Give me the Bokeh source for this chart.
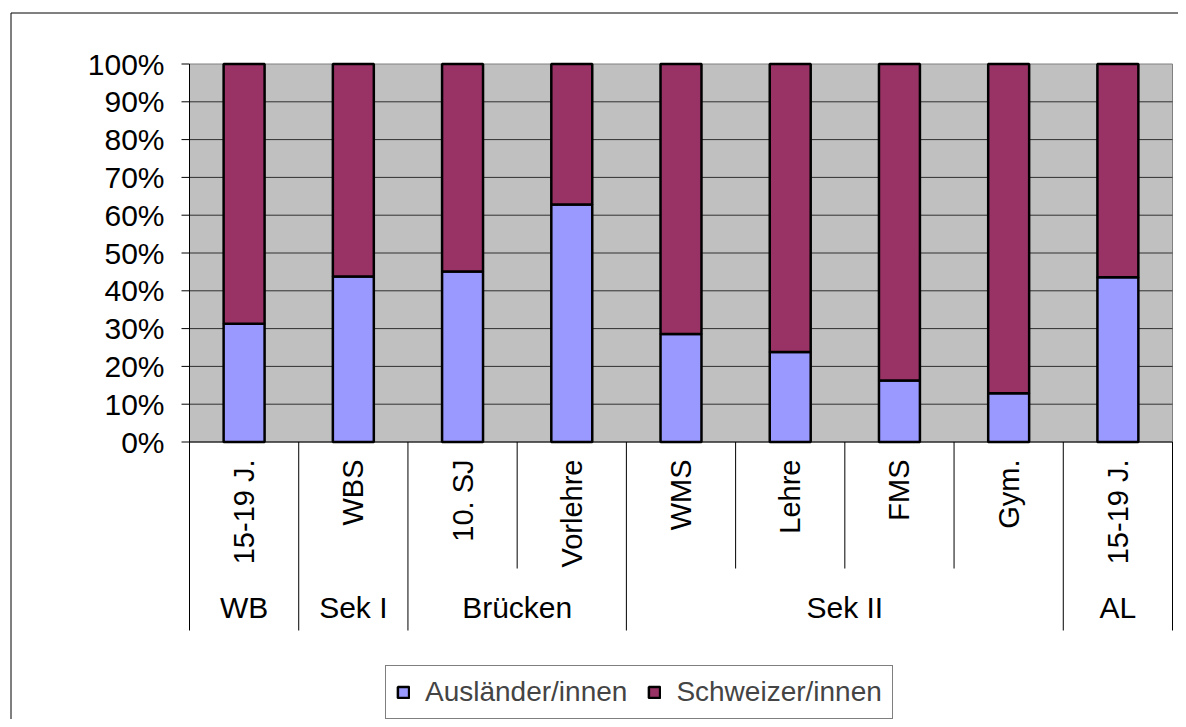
import math
from bokeh.plotting import figure
from bokeh.models import ColumnDataSource, Range1d, Legend, LegendItem
from bokeh.core.properties import value
from bokeh.embed import file_html
from bokeh.resources import INLINE

# ---------------- data ----------------
groups = ["WB", "Sek I", "Brücken", "Brücken", "Sek II", "Sek II", "Sek II", "Sek II", "AL"]
categories = ["15-19 J.", "WBS", "10. SJ", "Vorlehre", "WMS", "Lehre", "FMS", "Gym.", "15-19 J."]
auslaender = [31.3, 43.8, 45.1, 62.8, 28.6, 23.8, 16.3, 12.9, 43.6]
schweizer = [68.7, 56.2, 54.9, 37.2, 71.4, 76.2, 83.7, 87.1, 56.4]
series_names = ["Ausländer/innen", "Schweizer/innen"]
series_colors = ["#9999FF", "#993366"]
y_ticks = [0, 10, 20, 30, 40, 50, 60, 70, 80, 90, 100]
y_tick_labels = ["0%", "10%", "20%", "30%", "40%", "50%", "60%", "70%", "80%", "90%", "100%"]

# ---------------- layout (picture pixels) ----------------
FONT = "Liberation Sans"
W, H = 1178, 719
frame_left, frame_top = 9, 11
frame_right, frame_bottom = W, H
plot_left, plot_right = 189.0, 1172.0
plot_top, plot_bottom = 63.5, 441.5

n = len(categories)
ux = (plot_right - plot_left) / n
uy = (plot_bottom - plot_top) / 100.0


def dx(px):
    return -0.5 + (px - plot_left) / ux


def dy(py):
    return (plot_bottom - py) / uy


p = figure(width=W, height=H,
           x_range=Range1d(dx(frame_left), dx(frame_right)),
           y_range=Range1d(dy(frame_bottom), dy(frame_top)),
           output_backend="svg", toolbar_location=None,
           x_axis_location=None, y_axis_location=None,
           min_border_left=frame_left, min_border_top=frame_top,
           min_border_right=0, min_border_bottom=0)
p.grid.grid_line_color = None
p.outline_line_color = None
p.background_fill_color = "white"
p.border_fill_color = "white"

# outer chart border (top and left visible)
p.segment(x0=[dx(10.5), dx(10.5)], y0=[dy(12.5), dy(12.5)],
          x1=[dx(frame_right + 5), dx(10.5)], y1=[dy(12.5), dy(frame_bottom + 5)],
          line_color="black", line_width=1)

# plot area
x0 = -0.5
x1 = n - 0.5
p.quad(left=[x0], right=[x1], bottom=[0], top=[100],
       fill_color="#C0C0C0", line_color="#808080", line_width=1)

# gridlines
grid_vals = [t for t in y_ticks if 0 < t < 100]
p.segment(x0=[x0] * len(grid_vals), x1=[x1] * len(grid_vals), y0=grid_vals, y1=grid_vals,
          line_color="#303030", line_width=1)

# bars
src = ColumnDataSource(dict(x=list(range(n)), a=auslaender, s=schweizer))
rs = p.vbar_stack(["a", "s"], x="x", width=0.375, source=src,
                  fill_color=series_colors, line_color="black", line_width=2.5)

# axis lines
tick_len = 8 / ux
p.segment(x0=[x0], y0=[100], x1=[x0], y1=[0], line_color="black", line_width=1)
p.segment(x0=[x0], y0=[0], x1=[x1], y1=[0], line_color="black", line_width=1)
p.segment(x0=[x0 - tick_len] * len(y_ticks), x1=[x0] * len(y_ticks), y0=y_ticks, y1=y_ticks,
          line_color="black", line_width=1)

# y tick labels
p.text(x=[dx(164)] * len(y_ticks), y=y_ticks, text=y_tick_labels,
       text_align="right", text_baseline="middle",
       text_font=value(FONT), text_font_size="30px", text_color="black")

# category separators
long_y = dy(630)
short_y = dy(568)
sx, sy1 = [], []
for b in range(n + 1):
    sx.append(b - 0.5)
    if b == 0 or b == n or groups[b] != groups[b - 1]:
        sy1.append(long_y)
    else:
        sy1.append(short_y)
p.segment(x0=sx, x1=sx, y0=[0] * len(sx), y1=sy1, line_color="black", line_width=1)

# category labels (rotated)
p.text(x=list(range(n)), y=[dy(459)] * n, text=categories, angle=math.pi / 2,
       text_align="right", text_baseline="middle",
       text_font=value(FONT), text_font_size="29px", text_color="black")

# group labels
gx, gl = [], []
start = 0
for i in range(1, n + 1):
    if i == n or groups[i] != groups[start]:
        gx.append((start + i - 1) / 2.0)
        gl.append(groups[start])
        start = i
p.text(x=gx, y=[dy(607)] * len(gx), text=gl, text_align="center", text_baseline="middle",
       text_font=value(FONT), text_font_size="30px", text_color="black")

# legend
legend = Legend(items=[LegendItem(label=series_names[0], renderers=[rs[0]]),
                       LegendItem(label=series_names[1], renderers=[rs[1]])],
                location=(385 - frame_left, frame_bottom - 719),
                orientation="horizontal",
                label_text_font=FONT, label_text_font_size="28px",
                glyph_width=14, glyph_height=14, label_standoff=15, spacing=20,
                padding=10, margin=0,
                border_line_color="black", border_line_width=1,
                background_fill_color="white", background_fill_alpha=1.0)
p.add_layout(legend)

open("out.html", "w").write(file_html(p, INLINE))
